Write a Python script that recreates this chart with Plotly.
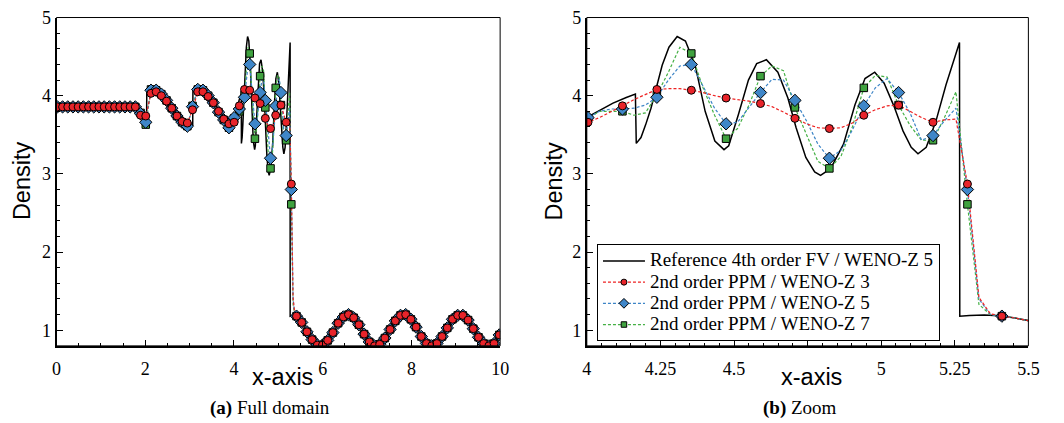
import plotly.graph_objects as go

# ---------------- data ----------------
# marker (every 3rd cell) positions
X_MARK = [0.020, 0.137, 0.254, 0.371, 0.488, 0.605, 0.723, 0.840, 0.957, 1.074,
          1.191, 1.309, 1.426, 1.543, 1.660, 1.777, 1.895, 2.012, 2.129, 2.246,
          2.363, 2.480, 2.598, 2.715, 2.832, 2.949, 3.066, 3.184, 3.301, 3.418,
          3.535, 3.652, 3.770, 3.887, 4.004, 4.121, 4.238, 4.355, 4.473, 4.590,
          4.707, 4.824, 4.941, 5.059, 5.176, 5.293, 5.410, 5.527, 5.645, 5.762,
          5.879, 5.996, 6.113, 6.230, 6.348, 6.465, 6.582, 6.699, 6.816, 6.934,
          7.051, 7.168, 7.285, 7.402, 7.520, 7.637, 7.754, 7.871, 7.988, 8.105,
          8.223, 8.340, 8.457, 8.574, 8.691, 8.809, 8.926, 9.043, 9.160, 9.277,
          9.395, 9.512, 9.629, 9.746, 9.863, 9.980]

Y_WZ3_MARK = [3.857, 3.857, 3.857, 3.857, 3.857, 3.857, 3.857, 3.857, 3.857, 3.857,
              3.857, 3.857, 3.857, 3.857, 3.857, 3.857, 3.75, 3.74, 4.03, 4.05,
              4.00, 3.93, 3.84, 3.74, 3.67, 3.65, 3.82, 4.05, 4.05, 3.99,
              3.91, 3.80, 3.70, 3.64, 3.66, 3.87, 4.08, 4.07, 3.97, 3.90,
              3.71, 3.58, 3.75, 3.88, 3.66, 2.87, 1.18, 1.10, 0.98, 0.88,
              0.81, 0.81, 0.87, 0.97, 1.09, 1.17, 1.20, 1.16, 1.07, 0.95,
              0.85, 0.80, 0.82, 0.90, 1.01, 1.12, 1.19, 1.20, 1.14, 1.04,
              0.92, 0.83, 0.80, 0.83, 0.92, 1.03, 1.14, 1.19, 1.19, 1.13,
              1.02, 0.91, 0.83, 0.80, 0.83, 0.94]

Y_WZ5_MARK = [3.857, 3.857, 3.857, 3.857, 3.857, 3.857, 3.857, 3.857, 3.857, 3.857,
              3.857, 3.857, 3.857, 3.857, 3.857, 3.857, 3.77, 3.66, 4.07, 4.07,
              4.02, 3.94, 3.84, 3.74, 3.66, 3.61, 3.86, 4.08, 4.07, 4.00,
              3.91, 3.79, 3.69, 3.59, 3.72, 3.83, 3.98, 4.40, 3.64, 4.04,
              3.94, 3.20, 3.87, 4.04, 3.49, 2.80, 1.18, 1.10, 0.98, 0.88,
              0.81, 0.81, 0.87, 0.97, 1.09, 1.17, 1.20, 1.16, 1.07, 0.95,
              0.85, 0.80, 0.82, 0.90, 1.01, 1.12, 1.19, 1.20, 1.14, 1.04,
              0.92, 0.83, 0.80, 0.83, 0.92, 1.03, 1.14, 1.19, 1.19, 1.13,
              1.02, 0.91, 0.83, 0.80, 0.83, 0.94]

Y_WZ7_MARK = [3.857, 3.857, 3.857, 3.857, 3.857, 3.857, 3.857, 3.857, 3.857, 3.857,
              3.857, 3.857, 3.857, 3.857, 3.857, 3.857, 3.78, 3.63, 4.08, 4.07,
              4.02, 3.94, 3.84, 3.74, 3.66, 3.61, 3.87, 4.08, 4.07, 4.00,
              3.91, 3.79, 3.69, 3.59, 3.71, 3.80, 4.01, 4.54, 3.45, 4.25,
              3.85, 3.07, 4.10, 3.88, 3.43, 2.61, 1.18, 1.10, 0.98, 0.88,
              0.81, 0.81, 0.87, 0.97, 1.09, 1.17, 1.20, 1.16, 1.07, 0.95,
              0.85, 0.80, 0.82, 0.90, 1.01, 1.12, 1.19, 1.20, 1.14, 1.04,
              0.92, 0.83, 0.80, 0.83, 0.92, 1.03, 1.14, 1.19, 1.19, 1.13,
              1.02, 0.91, 0.83, 0.80, 0.83, 0.94]

# intermediate cells (between markers) in the zoomed region
X_MID = [4.043, 4.082, 4.160, 4.199, 4.277, 4.316, 4.395, 4.434, 4.512, 4.551,
         4.629, 4.668, 4.746, 4.785, 4.863, 4.902, 4.980, 5.020, 5.098, 5.137,
         5.215, 5.254, 5.332, 5.371, 5.449, 5.488]
Y_WZ3_MID = [3.72, 3.79, 3.95, 4.02, 4.09, 4.09, 4.04, 4.00, 3.95, 3.93,
             3.86, 3.79, 3.64, 3.59, 3.59, 3.65, 3.82, 3.87, 3.80, 3.72,
             3.69, 3.70, 1.42, 1.21, 1.16, 1.13]
Y_WZ5_MID = [3.80, 3.83, 3.84, 3.88, 4.20, 4.38, 4.12, 3.84, 3.66, 3.85,
             4.21, 4.20, 3.68, 3.38, 3.30, 3.56, 4.10, 4.22, 3.78, 3.43,
             3.68, 3.84, 1.40, 1.20, 1.16, 1.13]
Y_WZ7_MID = [3.80, 3.80, 3.75, 3.78, 4.30, 4.62, 4.10, 3.75, 3.58, 3.88,
             4.38, 4.32, 3.50, 3.16, 3.22, 3.60, 4.26, 4.24, 3.62, 3.43,
             3.72, 4.05, 1.33, 1.20, 1.16, 1.13]

# reference solution (4th order FV / WENO-Z 5)
REF_X = [0.0, 1.85, 1.90, 1.95, 2.00, 2.03, 2.035, 2.10, 2.20, 2.30,
         2.40, 2.50, 2.60, 2.70, 2.80, 2.90, 3.00, 3.07, 3.075, 3.15,
         3.25, 3.35, 3.45, 3.55, 3.65, 3.75, 3.85, 3.90, 3.95, 4.002,
         4.045, 4.089, 4.134, 4.165, 4.168, 4.184, 4.200, 4.218, 4.234, 4.256,
         4.279, 4.307, 4.335, 4.368, 4.402, 4.435, 4.466, 4.482, 4.515, 4.549,
         4.577, 4.610, 4.649, 4.683, 4.711, 4.744, 4.774, 4.794, 4.828, 4.872,
         4.911, 4.945, 4.978, 5.010, 5.043, 5.074, 5.102, 5.125, 5.153, 5.186,
         5.220, 5.247, 5.266, 5.267, 5.30, 5.35, 5.40, 5.45, 5.50, 5.6,
         5.7, 5.8, 5.9, 6.0, 6.1, 6.2, 6.3, 6.4, 6.5, 6.6,
         6.7, 6.8, 6.9, 7.0, 7.1, 7.2, 7.3, 7.4, 7.5, 7.6,
         7.7, 7.8, 7.9, 8.0, 8.1, 8.2, 8.3, 8.4, 8.5, 8.6,
         8.7, 8.8, 8.9, 9.0, 9.1, 9.2, 9.3, 9.4, 9.5, 9.6,
         9.7, 9.8, 9.9, 10.0]
REF_Y = [3.857, 3.857, 3.84, 3.79, 3.71, 3.65, 4.07, 4.09, 4.085, 4.05,
         3.99, 3.92, 3.84, 3.76, 3.68, 3.62, 3.60, 3.62, 4.07, 4.09,
         4.08, 4.04, 3.98, 3.89, 3.79, 3.69, 3.61, 3.59, 3.62, 3.726,
         3.82, 3.905, 3.977, 4.02, 3.39, 3.465, 3.63, 3.84, 4.07, 4.39,
         4.62, 4.757, 4.70, 4.39, 3.80, 3.42, 3.31, 3.36, 3.76, 4.20,
         4.41, 4.46, 4.30, 3.97, 3.59, 3.21, 3.025, 2.98, 3.067, 3.38,
         3.885, 4.22, 4.30, 4.16, 3.87, 3.55, 3.34, 3.256, 3.34, 3.675,
         4.136, 4.47, 4.68, 1.18, 1.19, 1.195, 1.185, 1.16, 1.125, 1.03,
         0.93, 0.85, 0.805, 0.81, 0.86, 0.944, 1.043, 1.131, 1.188, 1.198,
         1.16, 1.082, 0.985, 0.891, 0.824, 0.80, 0.825, 0.893, 0.987, 1.084,
         1.161, 1.198, 1.187, 1.13, 1.041, 0.942, 0.858, 0.808, 0.805, 0.85,
         0.932, 1.03, 1.121, 1.183, 1.20, 1.167, 1.093, 0.998, 0.903, 0.831,
         0.80, 0.819, 0.882, 0.974]

NAMES = ["Reference 4th order FV / WENO-Z 5",
         "2nd order PPM / WENO-Z 3",
         "2nd order PPM / WENO-Z 5",
         "2nd order PPM / WENO-Z 7"]

# ---------------- styles ----------------
LINE_COL = {"wz3": "#ee2222", "wz5": "#3c84c6", "wz7": "#45b045"}
FILL_COL = {"wz3": "#e8242a", "wz5": "#3f86c8", "wz7": "#3fa23f"}
SYMBOL = {"wz3": "circle", "wz5": "diamond", "wz7": "square"}
MSIZE = {"wz3": 8, "wz5": 9.5, "wz7": 7.5}
DASH = "3px,2px"
SERIF = "Liberation Serif"
SANS = "Liberation Sans"

series = {
    "wz3": (Y_WZ3_MARK, Y_WZ3_MID, NAMES[1]),
    "wz5": (Y_WZ5_MARK, Y_WZ5_MID, NAMES[2]),
    "wz7": (Y_WZ7_MARK, Y_WZ7_MID, NAMES[3]),
}


def merged(ym, ymid):
    pts = sorted(list(zip(X_MARK, ym)) + list(zip(X_MID, ymid)))
    return [p[0] for p in pts], [p[1] for p in pts]


def big(txt):
    return '<span style="font-size:19px">' + txt + '</span>'


fig = go.Figure()
for xa, ya in [("x", "y"), ("x2", "y2")]:
    fig.add_trace(go.Scatter(x=REF_X, y=REF_Y, mode="lines",
                             line=dict(color="black", width=1.5),
                             xaxis=xa, yaxis=ya, showlegend=False))
    for key in ["wz7", "wz5", "wz3"]:
        ym, ymid, nm = series[key]
        lx, ly = merged(ym, ymid)
        fig.add_trace(go.Scatter(x=lx, y=ly, mode="lines",
                                 line=dict(color=LINE_COL[key], width=1.2, dash=DASH),
                                 xaxis=xa, yaxis=ya, showlegend=False))
    for key in ["wz7", "wz5", "wz3"]:
        ym, ymid, nm = series[key]
        fig.add_trace(go.Scatter(x=X_MARK, y=ym, mode="markers",
                                 marker=dict(symbol=SYMBOL[key], size=MSIZE[key],
                                             color=FILL_COL[key],
                                             line=dict(color="black", width=1)),
                                 xaxis=xa, yaxis=ya, showlegend=False))

# legend-only entries
fig.add_trace(go.Scatter(x=[None], y=[None], mode="lines", name=big(NAMES[0]),
                         line=dict(color="black", width=1.5),
                         xaxis="x2", yaxis="y2", legendrank=1))
for i, key in enumerate(["wz3", "wz5", "wz7"]):
    fig.add_trace(go.Scatter(x=[None], y=[None], mode="lines+markers", name=big(series[key][2]),
                             line=dict(color=LINE_COL[key], width=1.2, dash=DASH),
                             marker=dict(symbol=SYMBOL[key], size=MSIZE[key] - 2,
                                         color=FILL_COL[key],
                                         line=dict(color="black", width=1)),
                             xaxis="x2", yaxis="y2", legendrank=2 + i))

W, H = 1064, 423
L1, R1 = 52.3, 502.7
L2, R2 = 590.7, 1039.0
TOP, BOT = 7.7, 344.0

common = dict(showgrid=False, zeroline=False, showline=True, linecolor="black",
              linewidth=2, mirror=False, ticks="inside", ticklen=6, tickwidth=1.3,
              tickcolor="black", ticklabeloverflow="allow",
              tickfont=dict(family=SERIF, size=18, color="black"))
minor_y = dict(dtick=0.2, tick0=0, ticks="inside", ticklen=3, tickcolor="black", tickwidth=1.2)

fig.update_layout(
    width=W, height=H, margin=dict(l=0, r=0, t=0, b=0),
    paper_bgcolor="white", plot_bgcolor="white",
    xaxis=dict(domain=[L1 / W, R1 / W], range=[0, 10], anchor="y",
               tickvals=[0, 2, 4, 6, 8, 10], ticklabelstandoff=6,
               minor=dict(dtick=0.5, tick0=0, ticks="inside", ticklen=3,
                          tickcolor="black", tickwidth=1.2), **common),
    yaxis=dict(domain=[1 - BOT / H, 1 - TOP / H], range=[0.8, 5], anchor="x",
               tickvals=[1, 2, 3, 4, 5], minor=minor_y, **common),
    xaxis2=dict(domain=[L2 / W, R2 / W], range=[4, 5.5], anchor="y2",
                tickvals=[4, 4.25, 4.5, 4.75, 5, 5.25, 5.5], ticklabelstandoff=6,
                ticktext=["4", "4.25", "4.5", "", "5", "5.25", "5.5"],
                minor=dict(dtick=0.05, tick0=4, ticks="inside", ticklen=3,
                           tickcolor="black", tickwidth=1.2), **common),
    yaxis2=dict(domain=[1 - BOT / H, 1 - TOP / H], range=[0.8, 5], anchor="x2",
                tickvals=[1, 2, 3, 4, 5], minor=minor_y, **common),
    legend=dict(x=601 / W, y=1 - 240 / H, xanchor="left", yanchor="top",
                bgcolor="white", bordercolor="black", borderwidth=1,
                font=dict(family=SERIF, size=14, color="black"),
                itemwidth=42, tracegroupgap=0, traceorder="normal"),
    showlegend=True,
)

# thin frame (top/right)
for xr, yr in [("x domain", "y domain"), ("x2 domain", "y2 domain")]:
    fig.add_shape(type="rect", xref=xr, yref=yr, x0=0, x1=1, y0=0, y1=1,
                  line=dict(color="black", width=1), layer="above")

ann = []
for cx in [281.5, 818.5]:
    ann.append(dict(text="x-axis", x=cx / W, y=1 - 376 / H, xref="paper", yref="paper",
                    showarrow=False, xanchor="center", yanchor="middle",
                    font=dict(family=SANS, size=23.5, color="black")))
for cx in [17.5, 557.0]:
    ann.append(dict(text="Density", x=cx / W, y=1 - 175 / H, xref="paper", yref="paper",
                    showarrow=False, xanchor="center", yanchor="middle", textangle=-90,
                    font=dict(family=SANS, size=23.5, color="black")))
ann.append(dict(text="<b>(a)</b> Full domain", x=269 / W, y=1 - 408 / H, xref="paper",
                yref="paper", showarrow=False, xanchor="center", yanchor="middle",
                font=dict(family=SERIF, size=19, color="black")))
ann.append(dict(text="<b>(b)</b> Zoom", x=807 / W, y=1 - 408 / H, xref="paper",
                yref="paper", showarrow=False, xanchor="center", yanchor="middle",
                font=dict(family=SERIF, size=19, color="black")))
fig.update_layout(annotations=ann)

fig.write_html("out.html", config={"displayModeBar": False},
               post_script="document.body.style.margin='0';")
